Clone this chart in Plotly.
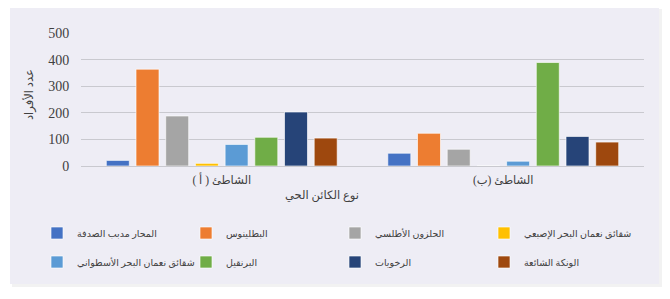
import plotly.graph_objects as go

categories = ["الشاطئ ( أ )", "الشاطئ (ب)"]
series_names = [
    "المحار مدبب الصدفة",
    "البطلينوس",
    "الحلزون الأطلسي",
    "شقائق نعمان البحر الإصبعي",
    "شقائق نعمان البحر الأسطواني",
    "البرنقيل",
    "الرخويات",
    "الونكة الشائعة",
]
series_values = [
    [21, 48],
    [364, 123],
    [188, 63],
    [10, 0],
    [81, 18],
    [108, 389],
    [203, 111],
    [105, 90],
]
colors = ["#4472C4", "#ED7D31", "#A5A5A5", "#FFC000",
          "#5B9BD5", "#70AD47", "#264478", "#9E480E"]
y_ticks = [0, 100, 200, 300, 400, 500]
x_title = "نوع الكائن الحي"
y_title = "عدد الأفراد"

W, H = 670, 299
L, R, T, B = 81, 26, 33, 133
pw, ph = W - L - R, H - T - B

def px_x(x):
    return (x - L) / pw

def px_y(y):
    return (H - B - y) / ph

FONT = "Liberation Serif, DejaVu Sans, serif"
TXT = "#404040"

fig = go.Figure()
for i, (name, vals, col) in enumerate(zip(series_names, series_values, colors)):
    fig.add_trace(go.Bar(
        x=categories, y=vals, name=name,
        marker=dict(color=col, line=dict(color="rgba(255,255,255,0.8)", width=0.8)),
        legend="legend" if i < 4 else "legend2",
    ))

legend_common = dict(
    orientation="h", xanchor="left", yanchor="middle",
    entrywidth=104, entrywidthmode="pixels",
    font=dict(family=FONT, size=9.5, color=TXT),
    bgcolor="rgba(0,0,0,0)", itemclick=False, itemdoubleclick=False,
)

fig.update_layout(
    width=W, height=H,
    margin=dict(l=L, r=R, t=T, b=B, autoexpand=False),
    paper_bgcolor="white",
    plot_bgcolor="rgba(0,0,0,0)",
    barmode="group", bargap=0.156, bargroupgap=0.226,
    font=dict(family=FONT, color=TXT, size=13),
    showlegend=True,
    legend=dict(x=px_x(37), y=px_y(233), **legend_common),
    legend2=dict(x=px_x(37), y=px_y(262), **legend_common),
    xaxis=dict(
        showgrid=False, showline=False, zeroline=False,
        ticks="outside", ticklen=3, tickcolor="rgba(0,0,0,0)",
        tickfont=dict(family=FONT, size=11.5, color=TXT),
    ),
    yaxis=dict(
        range=[0, 500], tickvals=y_ticks,
        showgrid=True, gridcolor="#C9C9CF", gridwidth=1,
        zeroline=True, zerolinecolor="#C9C9CF", zerolinewidth=1,
        showline=False, ticks="outside", ticklen=8, tickcolor="rgba(0,0,0,0)",
        tickfont=dict(family=FONT, size=14, color=TXT),
    ),
    shapes=[
        dict(type="rect", xref="paper", yref="paper", layer="below",
             x0=px_x(12), x1=px_x(662), y0=px_y(287), y1=px_y(9),
             fillcolor="rgba(0,0,0,0.05)", line=dict(width=0)),
        dict(type="rect", xref="paper", yref="paper", layer="below",
             x0=px_x(10), x1=px_x(659), y0=px_y(284), y1=px_y(8),
             fillcolor="#EEEDF5", line=dict(width=0)),
    ],
    annotations=[
        dict(text=x_title, xref="paper", yref="paper", x=px_x(322), y=px_y(196),
             showarrow=False, xanchor="center", yanchor="middle",
             font=dict(family=FONT, size=11.5, color=TXT)),
        dict(text=y_title, xref="paper", yref="paper", x=px_x(29), y=px_y(95),
             showarrow=False, xanchor="center", yanchor="middle", textangle=-90,
             font=dict(family=FONT, size=11.5, color=TXT)),
    ],
)

fig.write_html("out.html")
